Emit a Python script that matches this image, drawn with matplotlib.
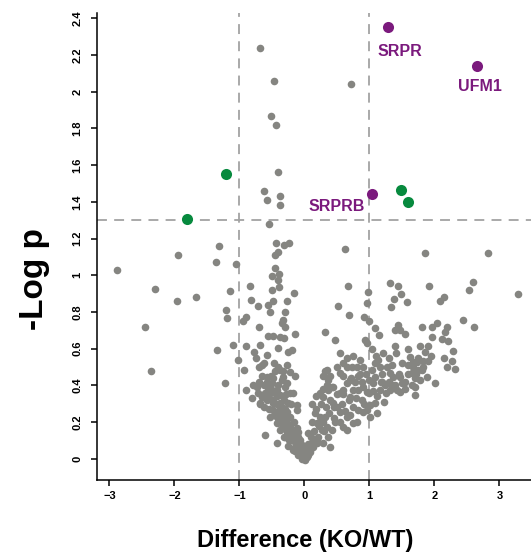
import numpy as np
import matplotlib.pyplot as plt

plt.rcParams['font.family'] = ['Liberation Sans', 'DejaVu Sans']

# gray proteins (difference KO/WT, -log p)
gray_x = [
    # sparse upper points
    -0.68, -0.47, 0.72, -0.51, -0.44, -0.41, -0.62, -0.37, -0.57, -0.38, -0.55,
    # left arm
    -0.444, -0.315, -0.233, -0.408, -0.449, -0.459, -0.505, -0.387, -0.413, -0.392,
    -0.505, -0.156, -0.844, -0.823, -0.479, -0.274, -0.556, -0.721, -0.531, -0.300,
    -0.905, -0.941, -0.326, -0.300, -0.700, -0.351, -0.556, -0.479, -0.377, -0.315,
    -0.146, -1.095, -0.905, -0.685, -0.782, -0.751, -0.413, -0.259, -0.187, -0.572,
    -1.018, -0.649, -0.464, -0.274, -0.926, -0.377, -0.223, -0.146, -0.582, -0.479,
    -0.326, -0.787, -0.736, -0.556, -0.428, -0.300, -0.172, -0.895, -0.813, -0.659,
    -0.531, -0.377, -0.685, -0.582, -0.479, -0.377, -0.249, -0.121, -0.479, -0.377,
    -0.274, -0.531, -0.428, -0.224, -0.121, -0.428, -0.326, -0.224, -0.377, -0.274,
    -0.172, -0.095, -0.300, -0.172, -0.069, -0.608, -0.428, -0.146, -0.069, -0.018,
    0.033, 0.008, 0.085, 0.136, 0.187,
    -0.70, -0.62, -0.50, -0.45, -0.55, -0.48, -0.42, -0.35, -0.45, -0.40,
    -0.33, -0.30, -0.25, -0.35, -0.28, -0.22, -0.20, -0.15, -0.12, -0.10,
    -0.08, -0.05, -0.03, 0.00, 0.02, -0.25, -0.18, -0.60, -0.66, -0.72,
    -0.52, -0.40, -0.35, -0.27, -0.22, -0.20, -0.16, -0.12, -0.08,
    -0.65, -0.58, -0.68, -0.62, -0.55, -0.52, -0.42, -0.38, -0.32, -0.28,
    -0.30, -0.26, -0.38, -0.32, -0.24, -0.18, -0.14, -0.10, -0.06, -0.04,
    -0.45, -0.40, -0.33, -0.62, -0.70,
    # left outliers
    -2.879, -1.946, -2.305, -1.967, -1.664, -2.459, -2.367, -1.310, -1.362, -1.059,
    -1.146, -1.213, -1.192, -1.341, -1.223,
    # right arm
    0.121, 0.162, 0.238, 0.290, 0.187, 0.341, 0.264, 0.213, 0.136, 0.290,
    0.392, 0.367, 0.315, 0.238, 0.290, 0.367, 0.418, 0.341, 0.367, 0.444,
    0.546, 0.597, 0.546, 0.649, 0.726, 0.803, 0.854, 0.649, 0.700, 0.597,
    0.546, 0.700, 0.751, 0.828, 0.905, 0.956, 0.879, 0.828, 0.905, 0.956,
    1.008, 1.085, 1.110, 1.008, 0.803, 0.649, 0.597, 0.649, 0.751, 0.495,
    0.444, 0.546, 0.418, 0.469, 0.321, 0.469, 0.510, 0.679, 0.915, 0.987,
    0.623, 0.669, 0.982, 0.967,
    0.25, 0.33, 0.38, 0.30, 0.22, 0.10, 0.05, 0.12, 0.18, 0.40,
    0.50, 0.58, 0.62, 0.70, 0.75, 0.80, 0.88, 0.95, 0.85, 0.72,
    0.60, 0.50, 0.65, 0.75, 0.90, 1.00, 1.05, 1.12, 1.20, 1.30,
    1.40, 1.55, 1.60, 1.75, 1.85, 1.95, 1.60, 1.30, 1.10, 0.45,
    0.55, 0.35, 0.28,
    0.05, 0.08, 0.15, 0.20, 0.25, 0.18, 0.28, 0.32, 0.40, 0.45,
    0.60, 0.68, 0.78, 0.82, 0.92, 1.00, 1.18, 1.25, 1.35, 1.45,
    1.55, 1.65, 1.72, 1.82, 0.06, 0.00,
    # right wing
    1.085, 1.151, 0.931, 0.956, 1.044, 1.213, 1.136, 1.085, 1.162, 1.264,
    1.341, 1.315, 1.367, 1.469, 1.495, 1.418, 1.315, 1.469, 1.238, 1.187,
    1.085, 1.033, 1.059, 1.162, 1.623, 1.674, 1.726, 1.828, 1.905, 1.674,
    1.751, 1.803, 1.879, 1.777, 1.597, 1.649, 1.700, 1.495, 1.392, 1.403,
    1.777, 1.905, 1.392, 1.444, 1.469, 1.546, 1.700, 1.700, 1.228, 2.013,
    2.279, 2.264, 2.151, 2.187, 2.315, 1.803, 1.967, 2.033, 2.187, 2.162,
    1.967, 2.110, 2.213, 2.444, 2.608, 1.315, 1.444, 1.485, 1.382, 1.326,
    1.582, 1.910, 2.085, 2.151, 2.531, 2.597, 1.859, 2.823, 3.279,
]
gray_y = [
    2.24, 2.06, 2.04, 1.87, 1.82, 1.56, 1.46, 1.43, 1.41, 1.38, 1.28,
    1.173, 1.164, 1.177, 1.128, 1.108, 1.041, 0.997, 1.005, 0.974, 0.937,
    0.919, 0.905, 0.941, 0.865, 0.861, 0.861, 0.837, 0.830, 0.801, 0.801,
    0.770, 0.752, 0.756, 0.719, 0.718, 0.738, 0.668, 0.668, 0.665, 0.656,
    0.677, 0.621, 0.612, 0.619, 0.583, 0.547, 0.601, 0.583, 0.592, 0.565,
    0.538, 0.512, 0.520, 0.510, 0.483, 0.483, 0.474, 0.450, 0.447, 0.438,
    0.447, 0.401, 0.392, 0.383, 0.374, 0.392, 0.356, 0.374, 0.329, 0.338,
    0.356, 0.347, 0.302, 0.320, 0.302, 0.302, 0.302, 0.293, 0.265, 0.247,
    0.256, 0.229, 0.229, 0.229, 0.265, 0.193, 0.193, 0.174, 0.156, 0.147,
    0.138, 0.147, 0.120, 0.111, 0.102, 0.129, 0.087, 0.065, 0.047, 0.029,
    0.011, -0.007, 0.038, 0.065, 0.084,
    0.42, 0.40, 0.41, 0.36, 0.33, 0.32, 0.30, 0.28, 0.25, 0.22,
    0.21, 0.24, 0.19, 0.17, 0.16, 0.13, 0.10, 0.09, 0.07, 0.12,
    0.05, 0.03, 0.06, 0.02, 0.04, 0.07, 0.05, 0.36, 0.34, 0.36,
    0.45, 0.40, 0.43, 0.41, 0.36, 0.30, 0.20, 0.17, 0.10,
    0.45, 0.42, 0.30, 0.28, 0.27, 0.38, 0.34, 0.27, 0.32, 0.35,
    0.27, 0.22, 0.20, 0.12, 0.10, 0.15, 0.04, 0.02, 0.08, 0.00,
    0.48, 0.50, 0.48, 0.52, 0.50,
    1.030, 1.108, 0.925, 0.859, 0.881, 0.719, 0.480, 1.157, 1.070, 1.063,
    0.914, 0.810, 0.767, 0.590, 0.411,
    0.298, 0.247, 0.229, 0.202, 0.193, 0.174, 0.156, 0.120, 0.102, 0.084,
    0.065, 0.120, 0.229, 0.356, 0.338, 0.374, 0.392, 0.483, 0.429, 0.392,
    0.574, 0.520, 0.465, 0.501, 0.501, 0.501, 0.538, 0.411, 0.429, 0.374,
    0.356, 0.338, 0.374, 0.374, 0.392, 0.365, 0.320, 0.265, 0.256, 0.265,
    0.293, 0.302, 0.247, 0.229, 0.202, 0.229, 0.174, 0.156, 0.193, 0.283,
    0.302, 0.256, 0.156, 0.202, 0.689, 0.647, 0.834, 0.783, 0.774, 0.752,
    1.143, 0.941, 0.910, 0.847,
    0.30, 0.28, 0.25, 0.15, 0.18, 0.12, 0.08, 0.20, 0.27, 0.32,
    0.35, 0.30, 0.26, 0.24, 0.28, 0.33, 0.42, 0.46, 0.46, 0.44,
    0.45, 0.50, 0.55, 0.56, 0.50, 0.43, 0.37, 0.34, 0.46, 0.42,
    0.40, 0.42, 0.46, 0.55, 0.58, 0.56, 0.60, 0.55, 0.56, 0.22,
    0.20, 0.40, 0.45,
    0.02, 0.05, 0.15, 0.10, 0.22, 0.34, 0.38, 0.48, 0.45, 0.28,
    0.35, 0.32, 0.42, 0.45, 0.30, 0.36, 0.42, 0.36, 0.40, 0.46,
    0.38, 0.40, 0.46, 0.50, 0.14, 0.06,
    0.710, 0.674, 0.647, 0.629, 0.598, 0.574, 0.538, 0.520, 0.501, 0.501,
    0.510, 0.465, 0.447, 0.447, 0.411, 0.374, 0.374, 0.365, 0.401, 0.420,
    0.447, 0.483, 0.411, 0.374, 0.556, 0.529, 0.529, 0.532, 0.534, 0.501,
    0.483, 0.483, 0.447, 0.429, 0.510, 0.465, 0.438, 0.520, 0.616, 0.574,
    0.616, 0.616, 0.701, 0.728, 0.701, 0.678, 0.392, 0.347, 0.307, 0.414,
    0.587, 0.534, 0.547, 0.501, 0.490, 0.719, 0.716, 0.741, 0.716, 0.692,
    0.665, 0.650, 0.641, 0.756, 0.717, 0.955, 0.941, 0.897, 0.868, 0.828,
    0.852, 0.943, 0.859, 0.883, 0.917, 0.961, 1.119, 1.123, 0.899,
]

# significant hits
green_x = [-1.20, -1.80, 1.49, 1.595]
green_y = [1.55, 1.308, 1.464, 1.40]
purple_names = ['SRPR', 'UFM1', 'SRPRB']
purple_x = [1.28, 2.66, 1.04]
purple_y = [2.354, 2.14, 1.443]

gray = '#858581'
purple = '#7b1a7d'
green = '#078a3e'

fig = plt.figure(figsize=(5.31, 5.55), dpi=100)
ax = fig.add_axes([96.5 / 531, 75 / 555, (531 - 96.5) / 531, (480 - 13) / 555])

ax.axvline(-1, color='#a3a3a3', lw=1.3, dashes=(5.5, 4), zorder=1)
ax.axvline(1, color='#a3a3a3', lw=1.3, dashes=(5.5, 4), zorder=1)
ax.axhline(1.3, color='#a3a3a3', lw=1.3, dashes=(5.5, 4), zorder=1)

ax.scatter(gray_x, gray_y, s=30, color=gray, lw=0, zorder=2)
ax.scatter(green_x, green_y, s=64, color=green, lw=0, zorder=3)
ax.scatter(purple_x, purple_y, s=64, color=purple, lw=0, zorder=3)

# label offsets in points
offsets = {'SRPR': ((9, -17.5), 'center'), 'UFM1': ((1.5, -15), 'center'),
           'SRPRB': ((-5, -9), 'right')}
for name, px, py in zip(purple_names, purple_x, purple_y):
    off, ha = offsets[name]
    ax.annotate(name, (px, py), xytext=off, textcoords='offset points',
                ha=ha, va='center', color=purple, fontsize=11.5, fontweight='bold')

ax.set_xlim(-3.2, 3.485)
ax.set_ylim(-0.116, 2.429)
ax.set_xticks([-3, -2, -1, 0, 1, 2, 3])
ax.set_yticks(np.round(np.arange(0, 2.41, 0.2), 1))
ax.set_yticklabels(['0', '0.2', '0.4', '0.6', '0.8', '1', '1.2', '1.4', '1.6',
                    '1.8', '2', '2.2', '2.4'], rotation=90, va='center')

for s in ['top', 'right']:
    ax.spines[s].set_visible(False)
for s in ['left', 'bottom']:
    ax.spines[s].set_linewidth(1.1)
ax.tick_params(direction='out', length=4, width=1.1, labelsize=8)
ax.tick_params(axis='x', pad=4)
ax.tick_params(axis='y', pad=6)
for lab in ax.get_xticklabels() + ax.get_yticklabels():
    lab.set_fontweight('bold')

ax.set_xlabel('Difference (KO/WT)', fontsize=17, fontweight='bold')
ax.xaxis.set_label_coords(0.48, -0.105)
ax.set_ylabel('-Log p', fontsize=24, fontweight='bold')
ax.yaxis.set_label_coords(-0.108, 0.43)

fig.savefig('out.png', dpi=100)
